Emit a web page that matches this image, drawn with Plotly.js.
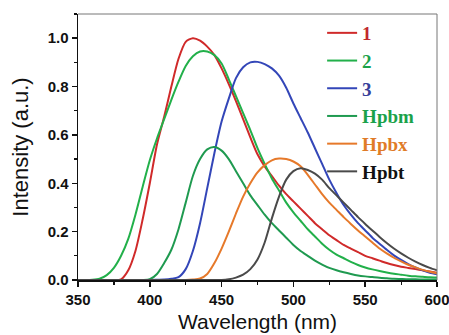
<!DOCTYPE html>
<html>
<head>
<meta charset="utf-8">
<script src="https://cdn.plot.ly/plotly-3.0.1.min.js"></script>
<style>html,body{margin:0;padding:0;background:#fff;}#chart{width:449px;height:335px;}</style>
</head>
<body>
<div id="chart"></div>
<script>
// Wavelength (nm)
const wavelength = [350,355,360,365,370,375,380,385,390,395,400,405,410,415,420,425,430,435,440,445,450,455,460,465,470,475,480,485,490,495,500,505,510,515,520,525,530,535,540,545,550,555,560,565,570,575,580,585,590,595,600];

// Series names (legend)
const seriesNames = ["1","2","3","Hpbm","Hpbx","Hpbt"];

// Normalised intensities
const int1 = [0,0,0,0,0,0,0.003,0.04,0.12,0.25,0.40,0.56,0.675,0.80,0.915,0.985,1.0,0.99,0.965,0.93,0.875,0.81,0.74,0.665,0.59,0.52,0.47,0.43,0.39,0.355,0.325,0.295,0.265,0.235,0.21,0.185,0.165,0.145,0.13,0.115,0.10,0.09,0.08,0.07,0.062,0.055,0.05,0.045,0.04,0.035,0.03];
const int2 = [0,0,0.001,0.005,0.02,0.05,0.10,0.17,0.27,0.385,0.495,0.585,0.665,0.745,0.82,0.885,0.925,0.945,0.945,0.93,0.895,0.83,0.76,0.69,0.62,0.545,0.48,0.42,0.37,0.32,0.28,0.245,0.21,0.18,0.15,0.125,0.105,0.09,0.075,0.062,0.052,0.044,0.037,0.031,0.026,0.022,0.018,0.015,0.013,0.011,0.01];
const int3 = [0,0,0,0,0,0,0,0,0,0,0,0.001,0.002,0.005,0.012,0.045,0.12,0.235,0.38,0.525,0.655,0.75,0.835,0.88,0.90,0.902,0.893,0.875,0.845,0.795,0.73,0.67,0.61,0.545,0.48,0.415,0.36,0.31,0.27,0.235,0.205,0.175,0.15,0.125,0.102,0.083,0.066,0.052,0.04,0.03,0.024];
const intHpbm = [0,0,0,0,0,0,0,0,0,0,0.003,0.025,0.07,0.125,0.21,0.32,0.43,0.50,0.54,0.55,0.535,0.50,0.45,0.40,0.35,0.31,0.27,0.235,0.205,0.175,0.145,0.12,0.10,0.08,0.064,0.05,0.04,0.032,0.025,0.019,0.015,0.012,0.009,0.007,0.005,0.004,0.003,0.003,0.002,0.002,0.002];
const intHpbx = [0,0,0,0,0,0,0,0,0,0,0,0,0,0,0,0,0.002,0.006,0.025,0.07,0.13,0.20,0.275,0.345,0.40,0.445,0.475,0.495,0.502,0.50,0.49,0.47,0.435,0.395,0.355,0.32,0.29,0.26,0.232,0.205,0.18,0.155,0.13,0.11,0.092,0.077,0.063,0.052,0.042,0.034,0.027];
const intHpbt = [0,0,0,0,0,0,0,0,0,0,0,0,0,0,0,0,0,0,0,0,0,0.003,0.01,0.022,0.045,0.085,0.155,0.255,0.345,0.415,0.45,0.462,0.455,0.44,0.415,0.38,0.35,0.32,0.29,0.26,0.232,0.205,0.178,0.153,0.13,0.11,0.092,0.076,0.062,0.05,0.04];

const seriesData = [int1, int2, int3, intHpbm, intHpbx, intHpbt];
const lineColors = ["#d02a2a","#22b04a","#3346b8","#1f9a50","#e6792a","#4a4a4a"];
const textColors = ["#c0282d","#1aa24a","#383f9a","#1aa24a","#e07b27","#111111"];

const traces = seriesData.map((ys, i) => ({
  x: wavelength,
  y: ys,
  type: "scatter",
  mode: "lines",
  name: '<span style="color:' + textColors[i] + '">' + seriesNames[i] + '</span>',
  legendgroup: "g" + i,
  line: {color: lineColors[i], width: 2, shape: "spline", smoothing: 0.7}
}));

const layout = {
  width: 449,
  height: 335,
  margin: {l: 78, r: 12, t: 14, b: 55, autoexpand: false},
  paper_bgcolor: "#ffffff",
  plot_bgcolor: "#ffffff",
  showlegend: true,
  legend: {
    x: 0.68, xanchor: "left",
    y: 1.0, yanchor: "top",
    bgcolor: "rgba(0,0,0,0)",
    borderwidth: 0,
    tracegroupgap: 0,
    maxheight: 320,
    font: {family: "Liberation Serif", size: 19, weight: "bold", color: "#111"}
  },
  xaxis: {
    range: [350, 600],
    dtick: 50,
    tick0: 350,
    ticks: "outside",
    ticklen: 5,
    tickwidth: 1.5,
    tickcolor: "#111",
    showline: true,
    linecolor: "#111",
    linewidth: 1.5,
    showgrid: false,
    zeroline: false,
    ticklabeloverflow: "allow",
    minor: {dtick: 25, ticks: "outside", ticklen: 3, tickwidth: 1.2, tickcolor: "#111", showgrid: false},
    tickfont: {family: "Liberation Sans", size: 15, weight: "bold", color: "#111"},
    title: {text: "Wavelength (nm)", font: {family: "Liberation Sans", size: 21, color: "#111"}, standoff: 8}
  },
  yaxis: {
    range: [0, 1.1],
    dtick: 0.2,
    tick0: 0,
    tickformat: ".1f",
    ticks: "outside",
    ticklen: 5,
    tickwidth: 1.5,
    tickcolor: "#111",
    showline: true,
    linecolor: "#111",
    linewidth: 1.5,
    showgrid: false,
    zeroline: false,
    ticklabeloverflow: "allow",
    minor: {dtick: 0.1, ticks: "outside", ticklen: 3, tickwidth: 1.2, tickcolor: "#111", showgrid: false},
    tickfont: {family: "Liberation Sans", size: 15, weight: "bold", color: "#111"},
    title: {text: "Intensity (a.u.)", font: {family: "Liberation Sans", size: 22, color: "#111"}, standoff: 13}
  },
  shapes: [
    {type: "line", xref: "paper", yref: "paper", x0: 0, x1: 1, y0: 1, y1: 1, line: {color: "#777", width: 1}},
    {type: "line", xref: "paper", yref: "paper", x0: 1, x1: 1, y0: 0, y1: 1, line: {color: "#777", width: 1}}
  ]
};

Plotly.newPlot("chart", traces, layout, {staticPlot: true, displayModeBar: false});
</script>
</body>
</html>
